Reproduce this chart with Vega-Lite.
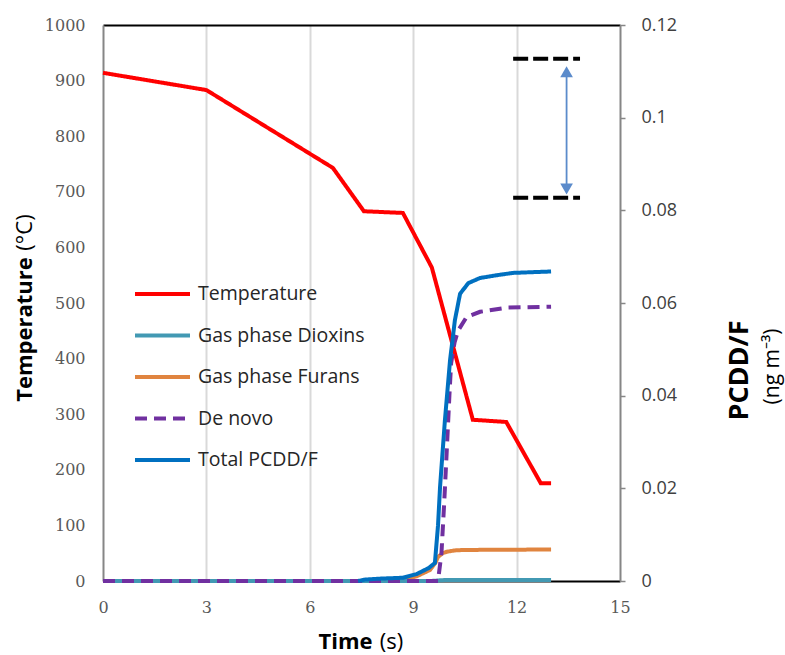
{
  "$schema": "https://vega.github.io/schema/vega-lite/v6.json",
  "width": 517,
  "height": 556,
  "autosize": "none",
  "padding": {"left": 103, "top": 25, "right": 165, "bottom": 74},
  "background": "white",
  "config": {"view": {"stroke": null}},
  "datasets": {
    "temp": [
      {"t": 0, "v": 914, "series": "Temperature"},
      {"t": 3, "v": 883, "series": "Temperature"},
      {"t": 6.67, "v": 743, "series": "Temperature"},
      {"t": 7.57, "v": 665, "series": "Temperature"},
      {"t": 8.7, "v": 662, "series": "Temperature"},
      {"t": 9.54, "v": 564, "series": "Temperature"},
      {"t": 10.73, "v": 290, "series": "Temperature"},
      {"t": 11.7, "v": 286, "series": "Temperature"},
      {"t": 12.7, "v": 176, "series": "Temperature"},
      {"t": 13.0, "v": 176, "series": "Temperature"}
    ],
    "pcdd": [
      {"t": 0, "v": 0, "series": "Gas phase Furans"},
      {"t": 8.4, "v": 0, "series": "Gas phase Furans"},
      {"t": 8.8, "v": 0.0004, "series": "Gas phase Furans"},
      {"t": 9.1, "v": 0.001, "series": "Gas phase Furans"},
      {"t": 9.49, "v": 0.0024, "series": "Gas phase Furans"},
      {"t": 9.65, "v": 0.004, "series": "Gas phase Furans"},
      {"t": 9.72, "v": 0.0052, "series": "Gas phase Furans"},
      {"t": 9.85, "v": 0.006, "series": "Gas phase Furans"},
      {"t": 9.97, "v": 0.0063, "series": "Gas phase Furans"},
      {"t": 10.2, "v": 0.0066, "series": "Gas phase Furans"},
      {"t": 10.45, "v": 0.0067, "series": "Gas phase Furans"},
      {"t": 13, "v": 0.0068, "series": "Gas phase Furans"},
      {"t": 0, "v": 0, "series": "Gas phase Dioxins"},
      {"t": 9.5, "v": 0, "series": "Gas phase Dioxins"},
      {"t": 9.9, "v": 0.0002, "series": "Gas phase Dioxins"},
      {"t": 13, "v": 0.0002, "series": "Gas phase Dioxins"},
      {"t": 0, "v": 0, "series": "De novo"},
      {"t": 9.72, "v": 0, "series": "De novo"},
      {"t": 9.82, "v": 0.006, "series": "De novo"},
      {"t": 9.9, "v": 0.017, "series": "De novo"},
      {"t": 9.97, "v": 0.0276, "series": "De novo"},
      {"t": 10.05, "v": 0.04, "series": "De novo"},
      {"t": 10.1, "v": 0.047, "series": "De novo"},
      {"t": 10.2, "v": 0.0515, "series": "De novo"},
      {"t": 10.3, "v": 0.054, "series": "De novo"},
      {"t": 10.55, "v": 0.057, "series": "De novo"},
      {"t": 10.94, "v": 0.0581, "series": "De novo"},
      {"t": 11.71, "v": 0.059, "series": "De novo"},
      {"t": 13, "v": 0.0592, "series": "De novo"},
      {"t": 7.4, "v": 0, "series": "Total PCDD/F"},
      {"t": 7.6, "v": 0.0003, "series": "Total PCDD/F"},
      {"t": 8.0, "v": 0.0005, "series": "Total PCDD/F"},
      {"t": 8.7, "v": 0.0007, "series": "Total PCDD/F"},
      {"t": 9.1, "v": 0.0015, "series": "Total PCDD/F"},
      {"t": 9.45, "v": 0.0028, "series": "Total PCDD/F"},
      {"t": 9.63, "v": 0.0039, "series": "Total PCDD/F"},
      {"t": 9.72, "v": 0.012, "series": "Total PCDD/F"},
      {"t": 9.78, "v": 0.0204, "series": "Total PCDD/F"},
      {"t": 9.92, "v": 0.0347, "series": "Total PCDD/F"},
      {"t": 10.07, "v": 0.0477, "series": "Total PCDD/F"},
      {"t": 10.21, "v": 0.0563, "series": "Total PCDD/F"},
      {"t": 10.36, "v": 0.062, "series": "Total PCDD/F"},
      {"t": 10.6, "v": 0.0643, "series": "Total PCDD/F"},
      {"t": 10.94, "v": 0.0654, "series": "Total PCDD/F"},
      {"t": 11.43, "v": 0.066, "series": "Total PCDD/F"},
      {"t": 11.9, "v": 0.0665, "series": "Total PCDD/F"},
      {"t": 13, "v": 0.0668, "series": "Total PCDD/F"}
    ],
    "hlines": [
      {"t": 11.9, "t2": 13.84, "v": 0.1127},
      {"t": 11.9, "t2": 13.84, "v": 0.0827}
    ],
    "arrow": [{"t": 13.45, "v": 0.1099, "v2": 0.0846}],
    "heads": [
      {"t": 13.45, "v": 0.1099, "dir": "up"},
      {"t": 13.45, "v": 0.0846, "dir": "down"}
    ]
  },
  "resolve": {"scale": {"y": "independent"}, "axis": {"x": "independent"}},
  "layer": [
    {
      "data": {"name": "temp"},
      "mark": {"type": "line", "strokeWidth": 4},
      "encoding": {
        "x": {
          "field": "t", "type": "quantitative",
          "scale": {"domain": [0, 15], "nice": false, "zero": false},
          "axis": {
            "orient": "bottom", "values": [0, 3, 6, 9, 12, 15],
            "grid": true, "gridColor": "#d9d9d9", "gridWidth": 2,
            "gridOpacity": {"condition": {"test": "datum.value == 0 || datum.value == 15", "value": 0}, "value": 1},
            "ticks": false, "domainColor": "#000000", "domainWidth": 2,
            "labelFont": "DejaVu Serif", "labelFontSize": 16, "labelColor": "#595959",
            "labelPadding": 18, "labelFlush": false, "labelOverlap": false,
            "title": "Time", "titleFont": "Open Sans", "titleFontWeight": "bold",
            "titleFontSize": 22, "titleColor": "#000000", "titleAlign": "center",
            "titleBaseline": "middle", "titleX": 242, "titleY": 60
          }
        },
        "y": {
          "field": "v", "type": "quantitative",
          "scale": {"domain": [0, 1000], "nice": false},
          "axis": {
            "orient": "left", "values": [0, 100, 200, 300, 400, 500, 600, 700, 800, 900, 1000], "format": "d",
            "grid": false, "ticks": false, "domainColor": "#868686", "domainWidth": 2,
            "labelFont": "DejaVu Serif", "labelFontSize": 16, "labelColor": "#595959",
            "labelPadding": 18, "labelOverlap": false, "labelFlush": false,
            "title": "Temperature", "titleFont": "Open Sans", "titleFontWeight": "bold",
            "titleFontSize": 22, "titleColor": "#000000", "titleAngle": -90,
            "titleAlign": "center", "titleBaseline": "middle", "titleX": -79, "titleY": 304
          }
        },
        "color": {
          "field": "series", "type": "nominal",
          "scale": {
            "domain": ["Temperature", "Gas phase Dioxins", "Gas phase Furans", "De novo", "Total PCDD/F"],
            "range": ["#ff0000", "#4299b3", "#e0843f", "#7030a0", "#0070c0"]
          },
          "legend": {
            "orient": "none", "legendX": 30, "legendY": 260, "title": null,
            "symbolType": "stroke", "symbolSize": 3025, "symbolStrokeWidth": 4,
            "labelFont": "Open Sans", "labelFontSize": 19.5, "labelColor": "#262626", "labelLimit": 400,
            "labelOffset": 6, "clipHeight": 18, "rowPadding": 21.5, "padding": 0
          }
        },
        "strokeDash": {
          "field": "series", "type": "nominal",
          "scale": {
            "domain": ["Temperature", "Gas phase Dioxins", "Gas phase Furans", "De novo", "Total PCDD/F"],
            "range": [[1, 0], [1, 0], [1, 0], [12, 7], [1, 0]]
          },
          "legend": {
            "orient": "none", "legendX": 30, "legendY": 260, "title": null,
            "symbolType": "stroke", "symbolSize": 3025, "symbolStrokeWidth": 4,
            "labelFont": "Open Sans", "labelFontSize": 19.5, "labelColor": "#262626", "labelLimit": 400,
            "labelOffset": 6, "clipHeight": 18, "rowPadding": 21.5, "padding": 0
          }
        }
      }
    },
    {
      "data": {"name": "temp"},
      "mark": {"type": "point", "opacity": 0},
      "encoding": {
        "x": {
          "field": "t", "type": "quantitative",
          "scale": {"domain": [0, 15], "nice": false, "zero": false},
          "axis": {
            "orient": "bottom", "labels": false, "ticks": false, "domain": false, "grid": false,
            "title": "(s)", "titleFont": "Open Sans", "titleFontWeight": "normal",
            "titleFontSize": 22, "titleColor": "#000000", "titleAlign": "center",
            "titleBaseline": "middle", "titleX": 288, "titleY": 60
          }
        },
        "y": {
          "field": "v", "type": "quantitative",
          "scale": {"domain": [0, 1000], "nice": false},
          "axis": {
            "orient": "left", "labels": false, "ticks": false, "domain": false, "grid": false,
            "title": "(°C)", "titleFont": "Open Sans", "titleFontWeight": "normal",
            "titleFontSize": 22, "titleColor": "#000000", "titleAngle": -90,
            "titleAlign": "center", "titleBaseline": "middle", "titleX": -79, "titleY": 207
          }
        }
      }
    },
    {
      "encoding": {
        "x": {"field": "t", "type": "quantitative", "scale": {"domain": [0, 15], "nice": false, "zero": false}, "axis": null},
        "y": {
          "field": "v", "type": "quantitative",
          "scale": {"domain": [0, 0.12], "nice": false},
          "axis": {
            "orient": "right", "values": [0, 0.02, 0.04, 0.06, 0.08, 0.1, 0.12], "format": ".2~f",
            "grid": false, "ticks": true, "tickSize": 5, "tickColor": "#868686", "tickWidth": 1.5,
            "domainColor": "#868686", "domainWidth": 2,
            "labelFont": "Open Sans", "labelFontSize": 18, "labelColor": "#404040",
            "labelPadding": 16, "labelOverlap": false, "labelFlush": false,
            "title": "PCDD/F", "titleFont": "Open Sans", "titleFontWeight": "bold",
            "titleFontSize": 27, "titleColor": "#000000", "titleAngle": -90,
            "titleAlign": "center", "titleBaseline": "middle", "titleX": 119, "titleY": 345
          }
        }
      },
      "layer": [
        {
          "data": {"name": "pcdd"},
          "mark": {"type": "line", "strokeWidth": 4},
          "encoding": {
            "color": {
              "field": "series", "type": "nominal",
              "scale": {
                "domain": ["Temperature", "Gas phase Dioxins", "Gas phase Furans", "De novo", "Total PCDD/F"],
                "range": ["#ff0000", "#4299b3", "#e0843f", "#7030a0", "#0070c0"]
              }
            },
            "strokeDash": {
              "field": "series", "type": "nominal",
              "scale": {
                "domain": ["Temperature", "Gas phase Dioxins", "Gas phase Furans", "De novo", "Total PCDD/F"],
                "range": [[1, 0], [1, 0], [1, 0], [12, 7], [1, 0]]
              }
            }
          }
        },
        {
          "data": {"name": "hlines"},
          "mark": {"type": "rule", "color": "#000000", "strokeWidth": 4, "strokeDash": [15, 5]},
          "encoding": {"x2": {"field": "t2"}}
        },
        {
          "data": {"name": "arrow"},
          "mark": {"type": "rule", "color": "#5b8bcb", "strokeWidth": 1.8},
          "encoding": {"y2": {"field": "v2"}}
        },
        {
          "data": {"name": "heads"},
          "mark": {"type": "point", "filled": true, "size": 160, "color": "#5b8bcb", "opacity": 1},
          "encoding": {
            "shape": {"field": "dir", "type": "nominal", "scale": {"domain": ["up", "down"], "range": ["triangle-up", "triangle-down"]}, "legend": null}
          }
        }
      ]
    },
    {
      "data": {"name": "pcdd"},
      "mark": {"type": "point", "opacity": 0},
      "encoding": {
        "x": {
          "field": "t", "type": "quantitative",
          "scale": {"domain": [0, 15], "nice": false, "zero": false},
          "axis": {
            "orient": "top", "labels": false, "ticks": false, "grid": false,
            "domainColor": "#000000", "domainWidth": 2, "title": null
          }
        },
        "y": {
          "field": "v", "type": "quantitative",
          "scale": {"domain": [0, 0.12], "nice": false},
          "axis": {
            "orient": "right", "labels": false, "ticks": false, "domain": false, "grid": false,
            "title": "(ng m⁻³)", "titleFont": "Open Sans", "titleFontWeight": "normal",
            "titleFontSize": 21, "titleColor": "#000000", "titleAngle": -90,
            "titleAlign": "center", "titleBaseline": "middle", "titleX": 152, "titleY": 341
          }
        }
      }
    }
  ]
}
